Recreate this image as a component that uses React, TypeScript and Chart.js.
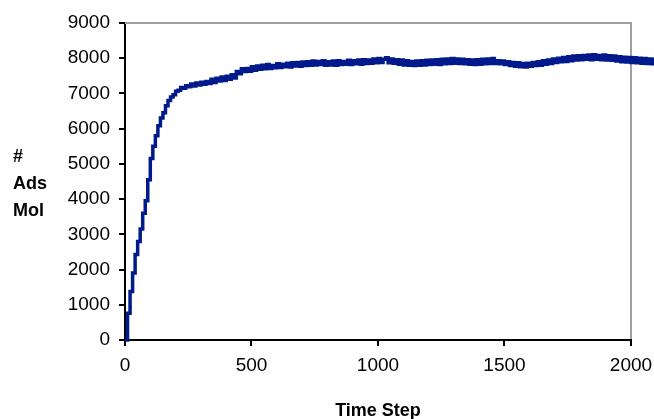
import React, { useEffect, useRef } from "react";
import { Chart, registerables } from "chart.js";

Chart.register(...registerables);

// Number of adsorbed molecules, sampled every 10 time steps (0 .. 2100)
const adsMol: number[] = [
  0, 760, 1380, 1900, 2430, 2800, 3150, 3600, 3950, 4550,
  5150, 5500, 5800, 6080, 6300, 6450, 6650, 6800, 6900, 6960,
  7060, 7090, 7170, 7150, 7220, 7190, 7270, 7210, 7300, 7240,
  7320, 7260, 7340, 7280, 7400, 7310, 7430, 7350, 7470, 7370,
  7490, 7400, 7530, 7440, 7620, 7560, 7700, 7620, 7710, 7630,
  7760, 7660, 7780, 7690, 7800, 7700, 7820, 7710, 7790, 7730,
  7840, 7740, 7830, 7760, 7860, 7750, 7870, 7780, 7880, 7770,
  7890, 7790, 7900, 7800, 7920, 7810, 7910, 7820, 7930, 7800,
  7900, 7810, 7920, 7800, 7930, 7820, 7910, 7830, 7940, 7820,
  7930, 7840, 7950, 7830, 7960, 7850, 7950, 7860, 7980, 7870,
  7990, 7880, 7970, 8010, 7870, 7980, 7860, 7960, 7830, 7950,
  7810, 7930, 7800, 7910, 7790, 7920, 7800, 7930, 7810, 7940,
  7820, 7950, 7830, 7960, 7820, 7970, 7840, 7980, 7850, 7990,
  7860, 7980, 7850, 7970, 7840, 7960, 7830, 7950, 7820, 7960,
  7830, 7970, 7840, 7980, 7850, 7990, 7850, 7930, 7840, 7920,
  7820, 7900, 7790, 7880, 7770, 7870, 7760, 7850, 7750, 7860,
  7770, 7880, 7790, 7900, 7800, 7930, 7830, 7950, 7850, 7980,
  7880, 8000, 7900, 8020, 7910, 8040, 7930, 8060, 7950, 8070,
  7960, 8080, 7970, 8090, 7960, 8100, 7970, 8080, 7960, 8090,
  7950, 8070, 7940, 8060, 7920, 8040, 7900, 8030, 7890, 8020,
  7880, 8010, 7870, 8000, 7860, 7990, 7850, 7980, 7840, 7970,
  7850,
];
const sampleInterval = 10;
const timeSteps: number[] = adsMol.map((_, i) => i * sampleInterval);

const xTicks: number[] = [0, 500, 1000, 1500, 2000];
const xAxisEnd = 2000; // end of the drawn plot frame
const xVisibleMax = 2091; // data run on past the frame to the page edge
const yTicks: number[] = [0, 1000, 2000, 3000, 4000, 5000, 6000, 7000, 8000, 9000];
const yTitleLines: string[] = ["#", "Ads", "Mol"];
const xTitle = "Time Step";

const FONT = "'Liberation Sans', Arial, sans-serif";

export default function App() {
  const canvasRef = useRef<HTMLCanvasElement | null>(null);

  useEffect(() => {
    if (!canvasRef.current) return;
    const decor = {
      id: "decor",
      beforeDatasetsDraw(chart: any) {
        const { ctx, chartArea, scales } = chart;
        const { left, top, bottom } = chartArea;
        const xEnd = scales.x.getPixelForValue(xAxisEnd);
        ctx.save();
        ctx.strokeStyle = "#a0a0a0";
        ctx.lineWidth = 2;
        ctx.beginPath();
        ctx.moveTo(left, top);
        ctx.lineTo(xEnd, top);
        ctx.lineTo(xEnd, bottom);
        ctx.stroke();
        ctx.strokeStyle = "#000";
        ctx.beginPath();
        ctx.moveTo(left - 1, bottom);
        ctx.lineTo(xEnd + 1, bottom);
        ctx.stroke();
        ctx.restore();
      },
      afterDraw(chart: any) {
        const { ctx, chartArea } = chart;
        const xEnd = chart.scales.x.getPixelForValue(xAxisEnd);
        ctx.save();
        ctx.fillStyle = "#000";
        ctx.font = `bold 18px ${FONT}`;
        ctx.textAlign = "left";
        ctx.textBaseline = "alphabetic";
        yTitleLines.forEach((line, i) => {
          ctx.fillText(line, 13, 162 + i * 27);
        });
        ctx.textAlign = "center";
        ctx.fillText(xTitle, (chartArea.left + xEnd) / 2, 416);
        ctx.restore();
      },
    };

    const chart = new Chart(canvasRef.current, {
      type: "line",
      data: {
        datasets: [
          {
            label: "# Ads Mol",
            data: timeSteps.map((t, i) => ({ x: t, y: adsMol[i] })),
            borderColor: "#001a8c",
            borderWidth: 3.5,
            pointRadius: 0,
            stepped: "before",
            fill: false,
            clip: false as any,
          },
        ],
      },
      options: {
        animation: false,
        responsive: true,
        maintainAspectRatio: false,
        layout: { padding: { top: 23, right: 0, left: 0, bottom: 0 } },
        plugins: { legend: { display: false }, tooltip: { enabled: false } },
        scales: {
          x: {
            type: "linear",
            min: 0,
            max: xVisibleMax,
            afterBuildTicks(scale: any) {
              scale.ticks = xTicks.map((v) => ({ value: v }));
            },
            afterFit(scale: any) {
              scale.height = 79;
              scale.paddingRight = 0;
              scale.paddingLeft = 0;
            },
            ticks: {
              color: "#000",
              font: { family: FONT, size: 19 },
              padding: 8,
              maxRotation: 0,
              autoSkip: false,
              callback: (v: any) => String(v),
            },
            grid: {
              display: true,
              drawOnChartArea: false,
              drawTicks: true,
              tickLength: 6,
              color: "#000",
              lineWidth: 2,
            },
            border: { display: false },
          },
          y: {
            type: "linear",
            min: 0,
            max: 9000,
            afterBuildTicks(scale: any) {
              scale.ticks = yTicks.map((v) => ({ value: v }));
            },
            afterFit(scale: any) {
              scale.width = 125;
            },
            ticks: {
              color: "#000",
              font: { family: FONT, size: 19 },
              padding: 9,
              autoSkip: false,
              callback: (v: any) => String(v),
            },
            grid: {
              display: true,
              drawOnChartArea: false,
              drawTicks: true,
              tickLength: 6,
              color: "#000",
              lineWidth: 2,
            },
            border: { color: "#000", width: 2 },
          },
        },
      },
      plugins: [decor],
    });
    return () => chart.destroy();
  }, []);

  return (
    <div
      style={{
        position: "fixed",
        left: 0,
        top: 0,
        width: 654,
        height: 419,
        background: "#fff",
      }}
    >
      <canvas ref={canvasRef} />
    </div>
  );
}
